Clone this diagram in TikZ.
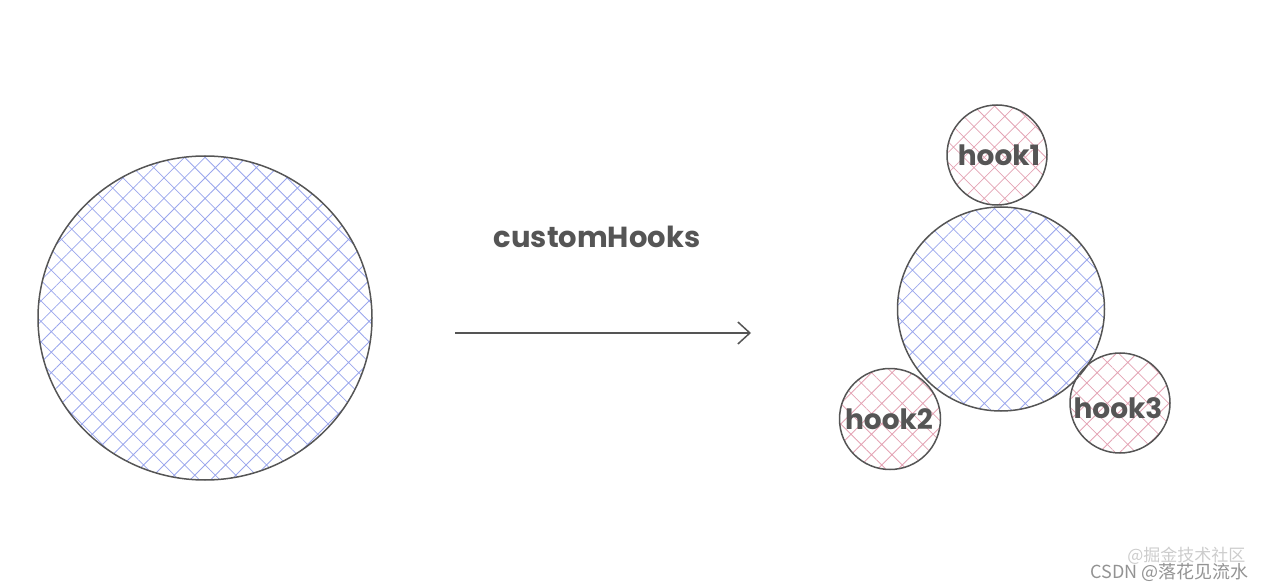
\documentclass[tikz,border=0pt]{standalone}
\usepackage{fontspec}
\setmainfont{Poppins}
\newfontfamily\cjk{Noto Sans CJK SC}
\usetikzlibrary{patterns.meta,arrows.meta,shapes.geometric}
\definecolor{hatchblue}{HTML}{9AA6EC}
\definecolor{hatchpink}{HTML}{E3A3B4}
\definecolor{edge}{HTML}{555555}
\tikzset{
  bluecirc/.style={ellipse, draw=edge, line width=1.5pt, inner sep=0pt,
    pattern={Hatch[angle=45,distance=14.5pt,line width=0.8pt]}, pattern color=hatchblue},
  pinkcirc/.style={ellipse, draw=edge, line width=1.5pt, inner sep=0pt,
    pattern={Hatch[angle=45,distance=14.5pt,line width=0.8pt]}, pattern color=hatchpink},
  hooklabel/.style={font=\bfseries\fontsize{28}{28}\selectfont, text=edge},
}
\begin{document}
\begin{tikzpicture}[x=1pt,y=-1pt]
\useasboundingbox (0,0) rectangle (1264,588);
\node[bluecirc, minimum width=334pt, minimum height=324pt] (big) at (205,318) {};
\node[bluecirc, minimum width=207pt, minimum height=204pt] (mid) at (1001,309) {};
\node[pinkcirc, minimum size=100pt] (h1) at (997,155) {};
\node[pinkcirc, minimum size=101pt] (h2) at (890,419) {};
\node[pinkcirc, minimum size=100pt] (h3) at (1120,403) {};
\node[hooklabel] (t1) at (999,155) {hook1};
\node[hooklabel] (t2) at (889,419) {hook2};
\node[hooklabel] (t3) at (1118,408) {hook3};
\node[font=\bfseries\fontsize{29}{29}\selectfont, text=edge] (lab) at (597,237) {customHooks};
\coordinate (a0) at (455,333);
\coordinate (a1) at (751,333);
\draw[edge, line width=1.5pt, -{Straight Barb[length=12pt,width=22pt,line width=1.5pt]}] (a0) -- (a1);
\node[font=\cjk\fontsize{17}{17}\selectfont, text=gray!40, anchor=east] (wm1) at (1249,556) {@掘金技术社区};
\node[font=\cjk\fontsize{18}{18}\selectfont, text=gray!85, anchor=east] (wm2) at (1252,572) {CSDN @落花见流水};
\end{tikzpicture}
\end{document}
